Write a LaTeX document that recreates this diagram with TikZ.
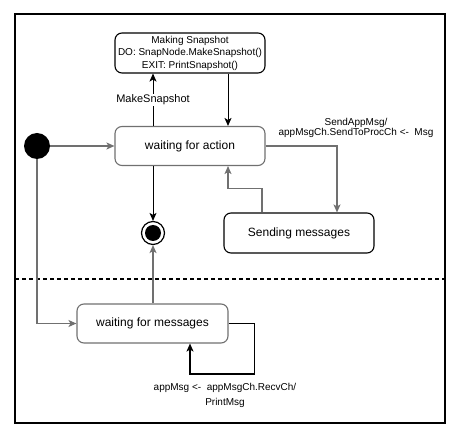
\documentclass[tikz,border=0pt]{standalone}
\usepackage{fontspec}
\setmainfont{Liberation Sans}
\usetikzlibrary{arrows.meta}
\definecolor{lg}{HTML}{707070}
\begin{document}
\begin{tikzpicture}[x=1pt,y=-1pt,
  stbox/.style={draw, rounded corners=7pt, minimum width=150pt, minimum height=40pt, inner sep=0pt, line width=1.1pt, font=\fontsize{12}{14}\selectfont},
  lab/.style={align=center, inner sep=1pt, font=\fontsize{10}{12}\selectfont},
  conn/.style={line width=0.9pt, -{Stealth[length=8pt,width=7pt,inset=2pt]}},
  gconn/.style={conn, lg, line width=1.2pt},
]
\useasboundingbox (0,0) rectangle (458,438);
\draw[line width=1.2pt] (15,14) rectangle (445,423);
\draw[line width=1.2pt, dash pattern=on 4pt off 3pt] (15,279) -- (445,279);

\node[stbox, font=\fontsize{10}{12.5}\selectfont, align=center] (snap) at (190,53) {Making Snapshot\\DO: SnapNode.MakeSnapshot()\\EXIT: PrintSnapshot()};
\node[stbox, draw=lg, minimum height=39pt] (wact) at (190,146) {waiting for action};
\node[stbox] (send) at (299,233) {Sending messages};
\node[stbox, draw=lg, minimum width=151pt, minimum height=39pt] (wmsg) at (152.5,323.5) {waiting for messages};
\node[circle, fill=black, minimum size=26pt, inner sep=0pt] (init) at (37,146) {};
\node[circle, draw=black, line width=1.2pt, minimum size=23pt, inner sep=0pt] (final) at (153,233) {};
\fill (final.center) circle (8pt);

\draw[gconn] (init) -- (wact.west);
\draw[conn] ([xshift=-37pt]wact.north) -- node[fill=white, inner sep=1pt, font=\fontsize{11}{13}\selectfont] {MakeSnapshot} ([xshift=-37pt]snap.south);
\draw[conn] ([xshift=38pt]snap.south) -- ([xshift=38pt]wact.north);
\draw[conn] (wact.south -| final) -- (final.north);
\draw[gconn] (wact.east) -| ([xshift=38pt]send.north);
\draw[gconn] ([xshift=-37pt]send.north) -- ++(0,-24) -| ([xshift=38pt]wact.south);
\node[lab, font=\fontsize{10}{10.7}\selectfont] (sendlbl) at (356,128) {SendAppMsg/\\appMsgCh.SendToProcCh <-\ \ Msg};
\draw[gconn] (init.south) |- (wmsg.west);
\draw[gconn] (wmsg.north -| final) -- (final.south);
\draw[conn, line width=1.1pt] (wmsg.east) -- ++(26,0) -- ++(0,50.5) -| ([xshift=37.5pt]wmsg.south);
\node[lab, font=\fontsize{10}{15}\selectfont] (rcvlbl) at (225,395) {appMsg <-\ \ appMsgCh.RecvCh/\\PrintMsg};
\end{tikzpicture}
\end{document}
